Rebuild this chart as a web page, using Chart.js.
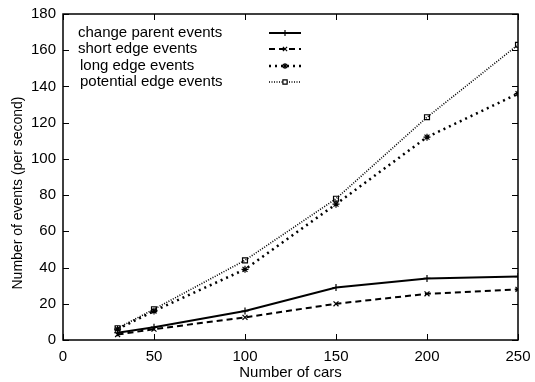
<!DOCTYPE html>
<html><head><meta charset="utf-8">
<script src="https://cdn.jsdelivr.net/npm/chart.js@4/dist/chart.umd.min.js"></script>
<style>html,body{margin:0;padding:0;background:#fff}#wrap{width:535px;height:382px}</style>
</head><body><div id="wrap"><canvas id="c" width="535" height="382"></canvas></div>
<script>
const cars = [30, 50, 100, 150, 200, 250];
const changeParent = [4, 7, 16, 29, 34, 35];
const shortEdge = [3, 6, 12.5, 20, 25.5, 28];
const longEdge = [6, 16, 39, 75, 112, 136];
const potentialEdge = [6.5, 17, 44, 78, 123, 163];
const seriesNames = ['change parent events', 'short edge events', 'long edge events', 'potential edge events'];
const xTicks = [0, 50, 100, 150, 200, 250];
const yTicks = [0, 20, 40, 60, 80, 100, 120, 140, 160, 180];
const xTitle = 'Number of cars';
const yTitle = 'Number of events (per second)';

const FONT = '"Liberation Sans", Arial, sans-serif';
const toPts = v => cars.map((x, i) => ({x, y: v[i]}));
const styles = [
  {dash: [], width: 2, ps: 'cross', r: 3.5},
  {dash: [6, 4], width: 2, ps: 'crossRot', r: 3.5},
  {dash: [2, 4], width: 2.5, ps: 'star', r: 3.5},
  {dash: [1, 1.5], width: 1.6, ps: 'rect', r: 3.5}
];
const allData = [changeParent, shortEdge, longEdge, potentialEdge];
const datasets = allData.map((d, i) => ({
  label: seriesNames[i], data: toPts(d),
  borderColor: '#000', backgroundColor: 'rgba(0,0,0,0)',
  borderWidth: styles[i].width, borderDash: styles[i].dash,
  pointStyle: styles[i].ps, pointRadius: styles[i].r, pointBorderWidth: 1.2,
  pointBorderColor: '#000', pointBackgroundColor: 'rgba(0,0,0,0)', tension: 0
}));

const framePlugin = {
  id: 'frame',
  afterDatasetsDraw(chart) {
    const {ctx, chartArea: a, scales: {x, y}} = chart;
    ctx.save();
    ctx.strokeStyle = '#000'; ctx.lineWidth = 1.5; ctx.setLineDash([]);
    ctx.strokeRect(a.left, a.top, a.right - a.left, a.bottom - a.top);
    ctx.lineWidth = 1;
    const L = 6;
    ctx.beginPath();
    xTicks.forEach(v => { const px = Math.round(x.getPixelForValue(v)) + 0.5;
      ctx.moveTo(px, a.bottom); ctx.lineTo(px, a.bottom - L);
      ctx.moveTo(px, a.top); ctx.lineTo(px, a.top + L); });
    yTicks.forEach(v => { const py = Math.round(y.getPixelForValue(v)) + 0.5;
      ctx.moveTo(a.left, py); ctx.lineTo(a.left + L, py);
      ctx.moveTo(a.right, py); ctx.lineTo(a.right - L, py); });
    ctx.stroke();
    // y-axis title
    ctx.save();
    ctx.translate(18, 193); ctx.rotate(-Math.PI / 2);
    ctx.font = '14px ' + FONT; ctx.fillStyle = '#000';
    ctx.textAlign = 'center'; ctx.textBaseline = 'middle';
    ctx.fillText(yTitle, 0, 0);
    ctx.restore();
    // legend
    ctx.font = '15px ' + FONT; ctx.textBaseline = 'middle';
    const rows = [33, 49, 66, 82];
    const tx = [78, 78, 80, 80];
    chart.data.datasets.forEach((ds, i) => {
      ctx.fillStyle = '#000'; ctx.textAlign = 'left';
      ctx.fillText(ds.label, tx[i], rows[i]);
      ctx.beginPath(); ctx.setLineDash(ds.borderDash); ctx.lineWidth = ds.borderWidth;
      ctx.moveTo(269, rows[i]); ctx.lineTo(301, rows[i]); ctx.stroke();
      ctx.setLineDash([]); ctx.lineWidth = 1.2; ctx.fillStyle = '#fff';
      Chart.helpers.drawPoint(ctx, {pointStyle: ds.pointStyle, radius: 3, borderWidth: 1.2}, 285, rows[i]);
    });
    ctx.restore();
  }
};

new Chart(document.getElementById('c'), {
  type: 'line',
  data: {datasets},
  options: {
    responsive: false, animation: false, devicePixelRatio: 1,
    layout: {padding: {top: 14, right: 17, left: 0, bottom: 0}},
    plugins: {legend: {display: false}, tooltip: {enabled: false}},
    scales: {
      x: {type: 'linear', min: 0, max: 250,
        afterBuildTicks: s => { s.ticks = xTicks.map(v => ({value: v})); },
        afterFit: s => { s.height = 42; s.paddingLeft = 0; s.paddingRight = 0; },
        grid: {display: false, drawTicks: false}, border: {display: false},
        ticks: {color: '#000', font: {family: FONT, size: 15, lineHeight: 1}, padding: 9, maxRotation: 0},
        title: {display: true, text: xTitle, color: '#000', font: {family: FONT, size: 15}, padding: {top: 0, bottom: 0}}},
      y: {type: 'linear', min: 0, max: 180,
        afterBuildTicks: s => { s.ticks = yTicks.map(v => ({value: v})); },
        afterFit: s => { s.width = 63; s.paddingTop = 0; s.paddingBottom = 0; },
        grid: {display: false, drawTicks: false}, border: {display: false},
        ticks: {color: '#000', font: {family: FONT, size: 15}, padding: 7},
        title: {display: false, text: yTitle}}
    }
  },
  plugins: [framePlugin]
});
</script></body></html>
